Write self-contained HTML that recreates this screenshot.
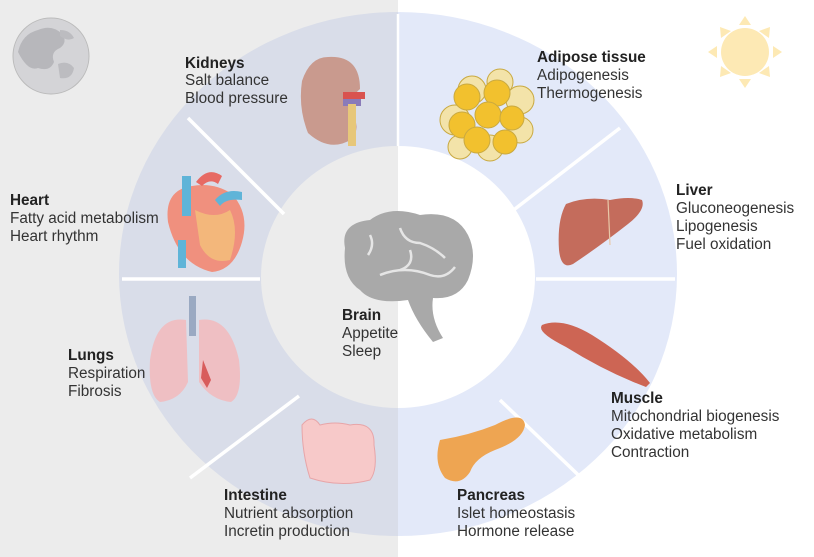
<!DOCTYPE html>
<html><head><meta charset="utf-8"><style>
html,body{margin:0;padding:0;background:#fff}
svg{display:block}
text{font-family:"Liberation Sans",Arial,sans-serif;font-size:15.3px;fill:#333}
.b{font-weight:bold;fill:#222}
</style></head><body>
<svg width="814" height="557" viewBox="0 0 814 557" xmlns="http://www.w3.org/2000/svg">
<defs>
<clipPath id="L"><rect x="0" y="0" width="398" height="557"/></clipPath>
<clipPath id="R"><rect x="398" y="0" width="416" height="557"/></clipPath>
</defs>
<rect x="0" y="0" width="398" height="557" fill="#ececec"/>
<rect x="398" y="0" width="416" height="557" fill="#ffffff"/>
<ellipse cx="398" cy="274" rx="279" ry="262" fill="#d9dde9" clip-path="url(#L)"/>
<ellipse cx="398" cy="274" rx="279" ry="262" fill="#e3e9f9" clip-path="url(#R)"/>
<ellipse cx="398" cy="277" rx="137" ry="131" fill="#ececec" clip-path="url(#L)"/>
<ellipse cx="398" cy="277" rx="137" ry="131" fill="#ffffff" clip-path="url(#R)"/>
<g stroke="#fff" stroke-width="3.5">
<line x1="122" y1="279" x2="260" y2="279"/>
<line x1="536" y1="279" x2="675" y2="279"/>
<line x1="188" y1="118" x2="284" y2="214"/>
<line x1="190" y1="478" x2="299" y2="396"/>
<line x1="620" y1="128" x2="511" y2="212"/>
<line x1="500" y1="400" x2="594" y2="490"/>
<line x1="398" y1="14" x2="398" y2="146" stroke-width="2.5"/>
</g>
<!-- moon -->
<circle cx="51" cy="56" r="38" fill="#d4d4d7" stroke="#bbb" stroke-width="1"/>
<path d="M18 52 q4 -18 20 -22 q14 -6 24 4 q6 8 -2 14 q-10 4 -6 14 q-4 10 -16 6 q-10 4 -20 -16z" fill="#b7b7bb"/>
<path d="M58 64 q10 -4 16 4 q-2 12 -14 10z" fill="#bcbcc0"/>
<path d="M60 30 q10 0 14 8 q-6 4 -14 -2z" fill="#bcbcc0"/>
<!-- sun -->
<g fill="#fde9b4">
<circle cx="745" cy="52" r="24"/>
<polygon points="745,16 739,25 751,25"/><polygon points="745,88 739,79 751,79"/>
<polygon points="708,52 717,46 717,58"/><polygon points="782,52 773,46 773,58"/>
<polygon points="720,27 721,38 731,31"/><polygon points="770,27 769,38 759,31"/>
<polygon points="720,77 721,66 731,73"/><polygon points="770,77 769,66 759,73"/>
</g>
<!-- kidney -->
<path d="M328 57 q32 -2 32 32 q-12 10 -10 24 q12 12 2 26 q-22 14 -44 -6 q-10 -25 -6 -52 q8 -24 26 -24z" fill="#c99a8e"/>
<rect x="343" y="92" width="22" height="7" fill="#d9534f"/>
<rect x="343" y="99" width="18" height="7" fill="#8a7bb9"/>
<rect x="348" y="104" width="8" height="42" fill="#e7c77a"/>
<!-- adipose -->
<g stroke="#c9a940" stroke-width="1">
<circle cx="455" cy="120" r="15" fill="#f3e3a9"/><circle cx="472" cy="90" r="14" fill="#f3e3a9"/>
<circle cx="500" cy="82" r="13" fill="#f3e3a9"/><circle cx="520" cy="100" r="14" fill="#f3e3a9"/>
<circle cx="520" cy="130" r="13" fill="#f3e3a9"/><circle cx="490" cy="148" r="13" fill="#f3e3a9"/>
<circle cx="460" cy="147" r="12" fill="#f3e3a9"/>
<circle cx="467" cy="97" r="13" fill="#f2c12e"/><circle cx="497" cy="93" r="13" fill="#f2c12e"/>
<circle cx="462" cy="125" r="13" fill="#f2c12e"/><circle cx="488" cy="115" r="13" fill="#f2c12e"/>
<circle cx="512" cy="118" r="12" fill="#f2c12e"/><circle cx="477" cy="140" r="13" fill="#f2c12e"/>
<circle cx="505" cy="142" r="12" fill="#f2c12e"/>
</g>
<!-- heart -->
<path d="M168 222 q-4 -32 24 -36 q22 -4 40 8 q18 20 10 48 q-8 28 -30 30 q-34 -8 -44 -50z" fill="#f0907e"/>
<path d="M195 210 q20 10 35 0 q10 20 0 50 q-20 5 -30 -15z" fill="#f4c77a" opacity=".7"/>
<rect x="182" y="176" width="9" height="40" fill="#5fb4d8"/>
<rect x="178" y="240" width="8" height="28" fill="#5fb4d8"/>
<path d="M196 182 q12 -16 26 -6 l-4 8 q-8 -6 -16 2z" fill="#e76a64"/>
<path d="M215 200 q10 -12 27 -8 l0 8 q-16 -2 -22 6z" fill="#5fb4d8"/>
<!-- lungs -->
<rect x="189" y="296" width="7" height="40" fill="#9aa9c2"/>
<path d="M186 320 q-30 -5 -36 40 q-2 35 10 42 q20 -2 28 -20z" fill="#efbfc3"/>
<path d="M199 320 q30 -5 40 40 q4 35 -8 42 q-20 -2 -32 -20z" fill="#efbfc3"/>
<path d="M203 360 l8 20 l-4 8 l-6 -10z" fill="#d85c5c"/>
<!-- liver -->
<path d="M566 204 q20 -8 44 -4 q20 -4 32 0 q4 10 -14 24 q-28 22 -55 40 q-12 6 -14 -14 q-2 -30 7 -46z" fill="#c46c5c"/>
<line x1="608" y1="200" x2="610" y2="245" stroke="#e8c8a8" stroke-width="1.2"/>
<!-- muscle -->
<path d="M542 325 q20 -8 50 10 q40 25 58 48 l-4 4 q-40 -15 -80 -40 q-30 -15 -24 -22z" fill="#cd6554"/>
<!-- intestine -->
<path d="M302 425 q10 -12 18 0 q15 -4 30 0 q25 -4 24 20 q4 25 -4 35 q-30 8 -60 -2 q-8 -25 -8 -53z" fill="#f7c9c9" stroke="#e7a5a8" stroke-width="1"/>
<!-- pancreas -->
<path d="M440 440 q30 -5 55 -15 q28 -15 30 0 q-2 15 -30 25 q-20 8 -25 22 q-10 15 -25 6 q-12 -15 -5 -38z" fill="#eea552"/>
<!-- brain -->
<path d="M345 248 q-5 -25 25 -28 q20 -15 50 -5 q35 -5 48 20 q10 20 0 45 q-10 20 -35 18 q-3 20 10 40 l-10 4 q-18 -22 -25 -42 q-35 5 -48 -10 q-18 -12 -15 -42z" fill="#a9a9a9"/>
<g stroke="#ececec" stroke-width="2.5" fill="none" opacity=".9">
<path d="M370 235 q5 10 -2 20"/><path d="M400 228 q5 15 20 15 q15 5 25 15"/>
<path d="M380 275 q25 -10 50 0 q15 5 25 -8"/><path d="M410 250 q5 15 -10 20"/>
</g>
<!-- texts -->
<text x="185" y="68" class="b">Kidneys</text><text x="185" y="85">Salt balance</text><text x="185" y="103">Blood pressure</text>
<text x="537" y="62" class="b">Adipose tissue</text><text x="537" y="80">Adipogenesis</text><text x="537" y="98">Thermogenesis</text>
<text x="10" y="205" class="b">Heart</text><text x="10" y="223">Fatty acid metabolism</text><text x="10" y="241">Heart rhythm</text>
<text x="676" y="195" class="b">Liver</text><text x="676" y="213">Gluconeogenesis</text><text x="676" y="231">Lipogenesis</text><text x="676" y="249">Fuel oxidation</text>
<text x="342" y="320" class="b">Brain</text><text x="342" y="338">Appetite</text><text x="342" y="356">Sleep</text>
<text x="68" y="360" class="b">Lungs</text><text x="68" y="378">Respiration</text><text x="68" y="396">Fibrosis</text>
<text x="611" y="403" class="b">Muscle</text><text x="611" y="421">Mitochondrial biogenesis</text><text x="611" y="439">Oxidative metabolism</text><text x="611" y="457">Contraction</text>
<text x="224" y="500" class="b">Intestine</text><text x="224" y="518">Nutrient absorption</text><text x="224" y="536">Incretin production</text>
<text x="457" y="500" class="b">Pancreas</text><text x="457" y="518">Islet homeostasis</text><text x="457" y="536">Hormone release</text>
</svg>
</body></html>
